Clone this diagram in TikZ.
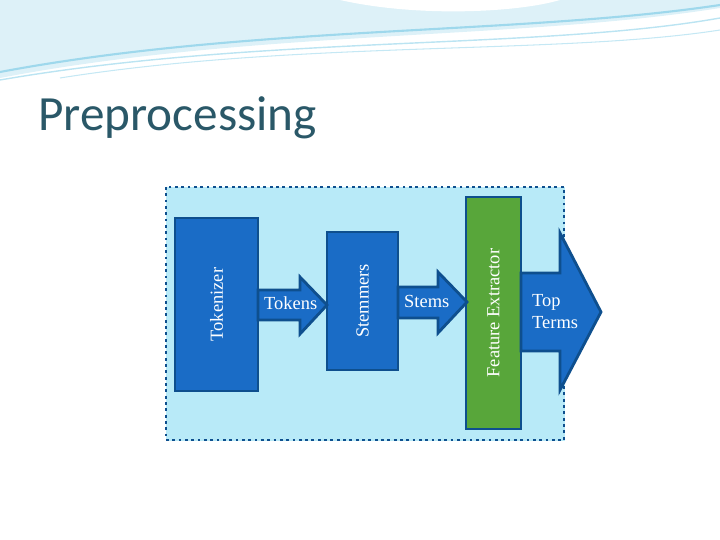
\documentclass[tikz,border=0pt]{standalone}
\usepackage{fontspec}
\setmainfont{Liberation Serif}
\newfontfamily\titlefont{Carlito}
\usetikzlibrary{positioning}
\definecolor{panel}{HTML}{B8EAF8}
\definecolor{stepblue}{HTML}{1A6CC6}
\definecolor{stepedge}{HTML}{0E4F8E}
\definecolor{stepgreen}{HTML}{58A63A}
\definecolor{titlegray}{HTML}{2A5868}
\definecolor{wave}{HTML}{9ED8EC}
\tikzset{
  stage/.style={draw=stepedge, line width=1.6pt, fill=stepblue, inner sep=0pt},
  flow/.style={draw=stepedge, line width=1.6pt, fill=stepblue},
  stagelabel/.style={text=white, font=\fontsize{10.5pt}{12.5pt}\selectfont}
}
\begin{document}
\begin{tikzpicture}[x=0.02cm, y=-0.02cm]
\useasboundingbox (0,0) rectangle (720,540);
% top waves
\fill[wave!35] (0,0) -- (720,0) -- (720,8) .. controls (520,40) and (250,30) .. (0,78) -- cycle;
\draw[wave, line width=1.2pt] (0,72) .. controls (250,25) and (520,35) .. (720,5);
\draw[wave!70, line width=0.8pt] (0,80) .. controls (260,35) and (540,50) .. (720,18);
\draw[wave!60, line width=0.6pt] (60,78) .. controls (300,40) and (560,55) .. (720,30);
\fill[white] (340,0) .. controls (420,18) and (520,12) .. (560,0) -- cycle;
% title
\node[anchor=west, text=titlegray, font=\titlefont\fontsize{28pt}{32pt}\selectfont] (title) at (32,118) {Preprocessing};
% panel
\draw[panel, fill=panel] (166,187) rectangle (564,440);
\draw[stepedge, line width=1.6pt, dotted] (166,187) rectangle (564,440);
% stages
\node[stage, minimum width=1.66cm, minimum height=3.46cm] (tokenizer) at (216.5,304.5) {};
\node[stagelabel, rotate=90] at (tokenizer.center) {Tokenizer};
\node[stage, minimum width=1.42cm, minimum height=2.76cm] (stemmers) at (362.5,301) {};
\node[stagelabel, rotate=90] at (stemmers.center) {Stemmers};
\node[stage, fill=stepgreen, minimum width=1.1cm, minimum height=4.64cm] (extractor) at (493.5,313) {};
\node[stagelabel, rotate=90] at (extractor.center) {Feature Extractor};
% block arrows
\draw[flow] (258,290) -- (300,290) -- (300,277) -- (327,305) -- (300,334) -- (300,320) -- (258,320) -- cycle;
\node[stagelabel, anchor=west] (tokens) at (258,303) {Tokens};
\draw[flow] (398,287) -- (438,287) -- (438,272) -- (467,302) -- (438,333) -- (438,318) -- (398,318) -- cycle;
\node[stagelabel, anchor=west] (stems) at (398,301) {Stems};
\draw[flow] (521,273) -- (560,273) -- (560,233) -- (601,312) -- (560,390) -- (560,351) -- (521,351) -- cycle;
\node[stagelabel, anchor=west, align=left] (terms) at (526,312) {Top\\Terms};
\end{tikzpicture}
\end{document}
